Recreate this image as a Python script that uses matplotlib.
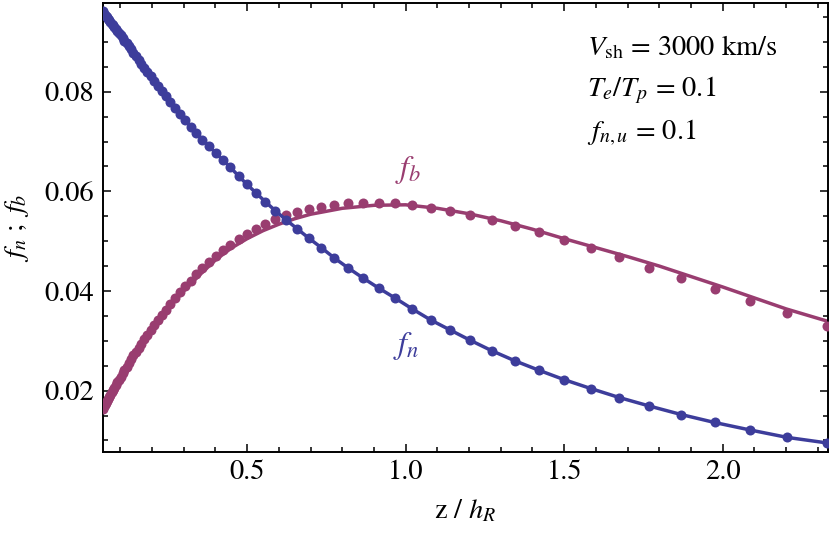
import matplotlib
matplotlib.use("Agg")
import matplotlib.pyplot as plt
from matplotlib.ticker import MultipleLocator

plt.rcParams['font.family'] = ['STIXGeneral', 'DejaVu Serif']
plt.rcParams['mathtext.fontset'] = 'stix'

# sample positions z/h_R of the dots
z_dots = [0.0445, 0.0470, 0.0497, 0.0525, 0.0555, 0.0586, 0.0619, 0.0654, 0.0691, 0.0730,
          0.0771, 0.0815, 0.0861, 0.0910, 0.0961, 0.1015, 0.1073, 0.1133, 0.1197, 0.1265,
          0.1336, 0.1412, 0.1491, 0.1576, 0.1665, 0.1759, 0.1858, 0.1963, 0.2074, 0.2191,
          0.2315, 0.2446, 0.2584, 0.2730, 0.2884, 0.3047, 0.3219, 0.3401, 0.3593, 0.3796,
          0.4010, 0.4237, 0.4476, 0.4729, 0.4996, 0.5279, 0.5577, 0.5892, 0.6225, 0.6576,
          0.6948, 0.7340, 0.7755, 0.8193, 0.8656, 0.9145, 0.9662, 1.0208, 1.0785, 1.1394,
          1.2038, 1.2718, 1.3437, 1.4196, 1.4998, 1.5846, 1.6741, 1.7687, 1.8687, 1.9743,
          2.0858, 2.2037, 2.3282]

fn_dots = [0.0962, 0.0960, 0.0957, 0.0955, 0.0952, 0.0950, 0.0947, 0.0944, 0.0941, 0.0937,
           0.0934, 0.0930, 0.0926, 0.0922, 0.0917, 0.0913, 0.0908, 0.0902, 0.0897, 0.0891,
           0.0885, 0.0878, 0.0871, 0.0864, 0.0856, 0.0848, 0.0840, 0.0831, 0.0822, 0.0812,
           0.0802, 0.0791, 0.0779, 0.0767, 0.0755, 0.0743, 0.0730, 0.0717, 0.0704, 0.0691,
           0.0677, 0.0663, 0.0648, 0.0631, 0.0614, 0.0597, 0.0579, 0.0561, 0.0543, 0.0525,
           0.0506, 0.0487, 0.0466, 0.0446, 0.0426, 0.0406, 0.0386, 0.0364, 0.0342, 0.0322,
           0.0301, 0.0280, 0.0260, 0.0241, 0.0222, 0.0204, 0.0186, 0.0169, 0.0152, 0.0136,
           0.0121, 0.0106, 0.0095]

fb_dots = [0.0163, 0.0166, 0.0169, 0.0172, 0.0176, 0.0180, 0.0184, 0.0188, 0.0192, 0.0197,
           0.0201, 0.0206, 0.0211, 0.0217, 0.0222, 0.0228, 0.0235, 0.0241, 0.0248, 0.0256,
           0.0263, 0.0271, 0.0278, 0.0286, 0.0294, 0.0303, 0.0312, 0.0322, 0.0332, 0.0342,
           0.0352, 0.0362, 0.0373, 0.0385, 0.0397, 0.0409, 0.0421, 0.0434, 0.0446, 0.0458,
           0.0470, 0.0482, 0.0493, 0.0504, 0.0514, 0.0524, 0.0535, 0.0545, 0.0553, 0.0559,
           0.0564, 0.0569, 0.0573, 0.0576, 0.0577, 0.0577, 0.0576, 0.0573, 0.0567, 0.0561,
           0.0553, 0.0543, 0.0531, 0.0519, 0.0502, 0.0486, 0.0468, 0.0447, 0.0426, 0.0403,
           0.0380, 0.0355, 0.0329]

# model curve for f_b (solid line)
z_fb_line = [0.0445, 0.06, 0.08, 0.10, 0.125, 0.15, 0.175, 0.20, 0.25, 0.30, 0.35, 0.40,
             0.45, 0.50, 0.55, 0.60, 0.65, 0.70, 0.80, 0.90, 1.00, 1.10, 1.20, 1.30, 1.40,
             1.50, 1.60, 1.70, 1.80, 1.90, 2.00, 2.10, 2.20, 2.332]
fb_line = [0.0160, 0.0179, 0.0202, 0.0224, 0.0251, 0.0276, 0.0300, 0.0323, 0.0364, 0.0400,
           0.0432, 0.0462, 0.0486, 0.0505, 0.0521, 0.0534, 0.0545, 0.0554, 0.0566, 0.0572,
           0.0573, 0.0566, 0.0555, 0.0541, 0.0524, 0.0505, 0.0487, 0.0469, 0.0450, 0.0429,
           0.0408, 0.0386, 0.0364, 0.0339]

blue = '#3d3d9b'
mag = '#993d70'

fig = plt.figure(figsize=(8.30, 5.33), dpi=100)
ax = fig.add_axes([0.1237, 0.1525, 0.8739, 0.842])

ax.plot(z_fb_line, fb_line, color=mag, lw=2.5, solid_capstyle='butt', zorder=2)
ax.plot(z_dots, fb_dots, 'o', color=mag, ms=7.2, mew=0, zorder=3)
ax.plot(z_dots, fn_dots, color=blue, lw=2.5, zorder=4)
ax.plot(z_dots, fn_dots, 'o', color=blue, ms=7.2, mew=0, zorder=5)

ax.set_xlim(0.0445, 2.332)
ax.set_ylim(0.00773, 0.09783)

ax.xaxis.set_major_locator(MultipleLocator(0.5))
ax.xaxis.set_minor_locator(MultipleLocator(0.1))
ax.yaxis.set_major_locator(MultipleLocator(0.02))
ax.yaxis.set_minor_locator(MultipleLocator(0.005))
ax.xaxis.set_major_formatter(matplotlib.ticker.FormatStrFormatter('%.1f'))
ax.yaxis.set_major_formatter(matplotlib.ticker.FormatStrFormatter('%.2f'))

ax.tick_params(which='both', direction='in', top=True, right=True, width=1.1,
               labelsize=20.5, pad=6)
ax.tick_params(which='major', length=6)
ax.tick_params(which='minor', length=3.5)
for s in ax.spines.values():
    s.set_linewidth(1.4)

ax.set_xlabel(r'$\mathrm{z}\ /\ h_R$', fontsize=20.5, labelpad=9)
ax.set_ylabel(r'$f_n\ ;\ f_b$', fontsize=20.5, labelpad=10)

ax.text(1.007, 0.0643, r'$f_b$', color=mag, fontsize=23, ha='center', va='center')
ax.text(1.000, 0.0290, r'$f_n$', color=blue, fontsize=23, ha='center', va='center')

tx = 0.668
ax.text(tx, 0.900, r'$V_{\rm sh}$ = 3000 km/s', transform=ax.transAxes, fontsize=20.5, va='center')
ax.text(tx, 0.805, r'$T_e/T_p$ = 0.1', transform=ax.transAxes, fontsize=20.5, va='center')
ax.text(tx, 0.710, r'$f_{n,u}$ = 0.1', transform=ax.transAxes, fontsize=20.5, va='center')

fig.savefig('out.png', dpi=100)
